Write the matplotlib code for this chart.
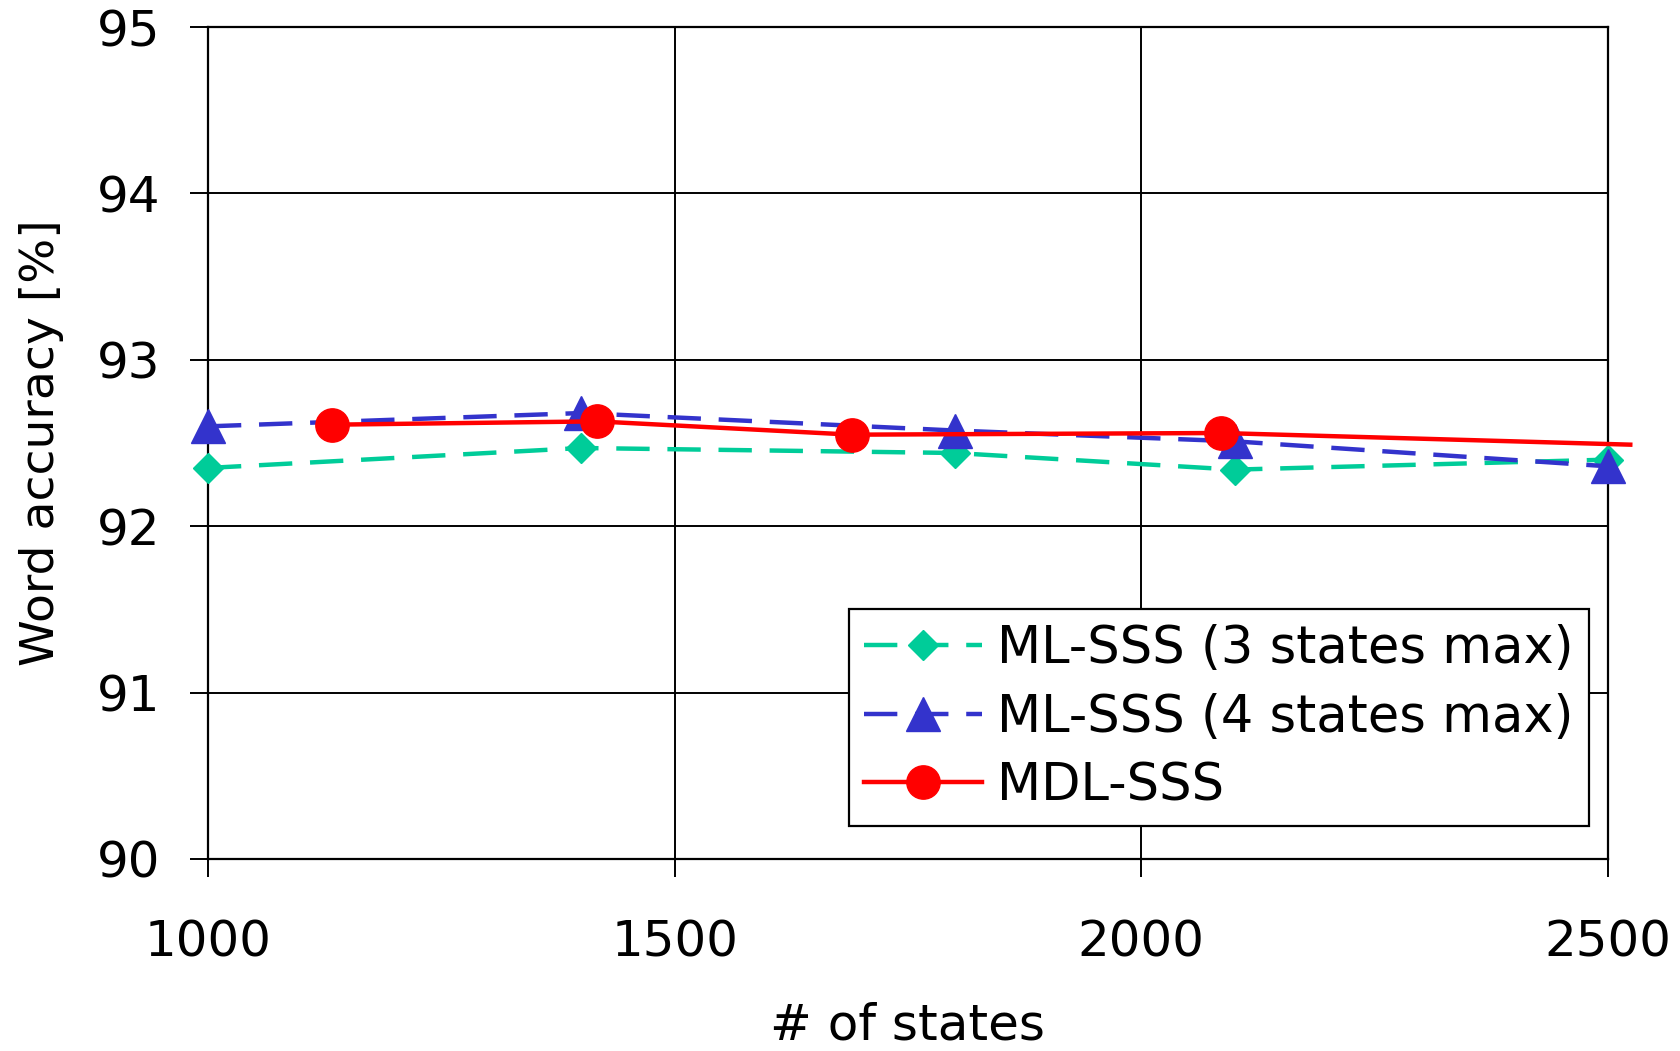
import matplotlib
matplotlib.use("Agg")
import matplotlib.pyplot as plt

# -----------------------------
# Data
# -----------------------------
ml3_states = [1000, 1400, 1800, 2100, 2500]
ml3_acc = [92.35, 92.47, 92.44, 92.34, 92.40]

ml4_states = [1000, 1400, 1800, 2100, 2500]
ml4_acc = [92.60, 92.68, 92.575, 92.51, 92.36]

mdl_states = [1133, 1417, 1690, 2086, 2524]
mdl_acc = [92.61, 92.63, 92.55, 92.56, 92.49]

labels = ["ML-SSS (3 states max)", "ML-SSS (4 states max)", "MDL-SSS"]
xticks = [1000, 1500, 2000, 2500]
yticks = [90, 91, 92, 93, 94, 95]

GREEN = "#00CC99"
BLUE = "#3333CC"
RED = "#FF0000"
FS = 36

plt.rcParams["font.family"] = ["DejaVu Sans"]

fig = plt.figure(figsize=(16.81, 10.51), dpi=100)
ax = fig.add_axes([0.1237, 0.1827, 0.8328, 0.7916])

LW = 3.2
ax.plot(ml3_states, ml3_acc, color=GREEN, lw=LW, dashes=(7.5, 4.0),
        marker="D", ms=15, mec=GREEN, mfc=GREEN, clip_on=False, zorder=3,
        label=labels[0])
ax.plot(ml4_states, ml4_acc, color=BLUE, lw=LW, dashes=(7.5, 4.0),
        marker="^", ms=24, mec=BLUE, mfc=BLUE, clip_on=False, zorder=4,
        label=labels[1])
ax.plot(mdl_states, mdl_acc, color=RED, lw=LW, marker="o", ms=24,
        mec=RED, mfc=RED, markevery=[0, 1, 2, 3], clip_on=False, zorder=5,
        label=labels[2])

ax.set_xlim(1000, 2500)
ax.set_ylim(90, 95)
ax.set_xticks(xticks)
ax.set_yticks(yticks)
ax.grid(True, color="black", lw=1.4)
ax.set_axisbelow(True)

for sp in ax.spines.values():
    sp.set_linewidth(1.6)
    sp.set_color("black")

ax.tick_params(axis="both", direction="out", length=13, width=1.4,
               labelsize=FS, colors="black")
ax.tick_params(axis="x", pad=30)
ax.tick_params(axis="y", pad=21)

ax.set_xlabel("# of states", fontsize=FS, labelpad=25)
ax.set_ylabel("Word accuracy [%]", fontsize=34, labelpad=24)

leg = ax.legend(
    loc="upper left",
    bbox_to_anchor=(849 / 1681, 1 - 609 / 1051),
    bbox_transform=fig.transFigure,
    prop={"size": 36.8},
    frameon=True,
    fancybox=False,
    framealpha=1.0,
    edgecolor="black",
    borderpad=0.3,
    labelspacing=0.36,
    handlelength=2.3,
    handletextpad=0.3,
    borderaxespad=0.0,
)
leg.get_frame().set_linewidth(1.6)

fig.savefig("out.png", dpi=100)
